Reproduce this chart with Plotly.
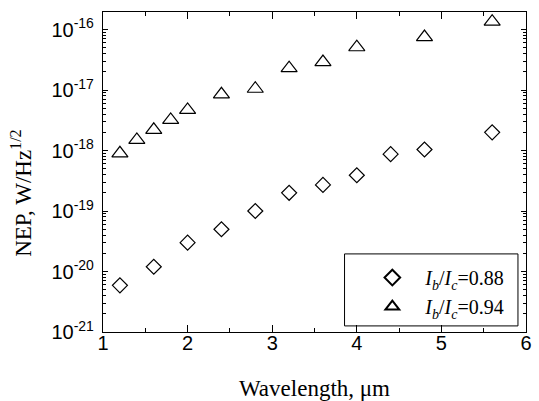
import plotly.graph_objects as go

wl_88 = [1.2, 1.6, 2.0, 2.4, 2.8, 3.2, 3.6, 4.0, 4.4, 4.8, 5.6]
nep_88 = [5.9e-21, 1.2e-20, 3.0e-20, 5.0e-20, 1.0e-19, 2.0e-19, 2.7e-19, 3.9e-19, 8.7e-19, 1.04e-18, 2.0e-18]

wl_94 = [1.2, 1.4, 1.6, 1.8, 2.0, 2.4, 2.8, 3.2, 3.6, 4.0, 4.8, 5.6]
nep_94 = [9.0e-19, 1.5e-18, 2.2e-18, 3.2e-18, 4.7e-18, 8.5e-18, 1.05e-17, 2.3e-17, 2.9e-17, 5.1e-17, 7.5e-17, 1.35e-16]

y_tickvals = [1e-21, 1e-20, 1e-19, 1e-18, 1e-17, 1e-16]
y_ticktext = ["10<sup>-21</sup>", "10<sup>-20</sup>", "10<sup>-19</sup>", "10<sup>-18</sup>", "10<sup>-17</sup>", "10<sup>-16</sup>"]
x_tickvals = [1, 2, 3, 4, 5, 6]

serif = "Liberation Serif, Times New Roman, serif"
sans = "Liberation Sans, Arial, sans-serif"

fig = go.Figure()
fig.add_trace(go.Scatter(
    x=wl_88, y=nep_88, mode="markers",
    name="<i>I</i><sub><i>b</i></sub>/<i>I</i><sub><i>c</i></sub>=0.88",
    marker=dict(symbol="diamond-open", size=11.5, color="black", line=dict(width=1.2, color="black")),
))
fig.add_trace(go.Scatter(
    x=wl_94, y=nep_94, mode="markers",
    name="<i>I</i><sub><i>b</i></sub>/<i>I</i><sub><i>c</i></sub>=0.94",
    marker=dict(symbol="triangle-up-open", size=14, color="black", line=dict(width=1.2, color="black")),
))

fig.add_shape(type="rect", xref="paper", yref="paper",
              x0=0.571, x1=0.981, y0=0.019, y1=0.244,
              line=dict(color="black", width=1), fillcolor="white", layer="below")

fig.add_annotation(text="NEP, W/Hz<sup>1/2</sup>", xref="paper", yref="paper",
                   x=-0.193, y=0.433, xanchor="center", yanchor="middle",
                   textangle=-90, showarrow=False,
                   font=dict(family=serif, size=23, color="black"))
fig.add_annotation(text="Wavelength, μm", xref="paper", yref="paper",
                   x=0.5, y=-0.178, xanchor="center", yanchor="middle",
                   showarrow=False,
                   font=dict(family=serif, size=23, color="black"))

fig.update_layout(
    width=539, height=401,
    margin=dict(l=103, r=7, t=12, b=69),
    paper_bgcolor="white", plot_bgcolor="white",
    showlegend=True,
    legend=dict(
        x=0.606, y=0.231, xanchor="left", yanchor="top",
        borderwidth=0, bgcolor="rgba(0,0,0,0)",
        font=dict(family=serif, size=20, color="black"),
        tracegroupgap=0, itemsizing="constant", itemwidth=56,
    ),
    xaxis=dict(
        range=[1, 6], tickvals=x_tickvals, ticks="inside", ticklen=7, tickwidth=1,
        tickcolor="black", showline=True, linecolor="black", linewidth=1.2, mirror="ticks",
        showgrid=False, zeroline=False, ticklabelstandoff=-7,
        tickfont=dict(family=sans, size=20, color="black"),
        minor=dict(dtick=0.5, ticks="inside", ticklen=4, tickcolor="black", showgrid=False),
    ),
    yaxis=dict(
        type="log", range=[-21, -15.71], tickvals=y_tickvals, ticktext=y_ticktext,
        ticks="inside", ticklen=5, tickwidth=1, tickcolor="black",
        showline=True, linecolor="black", linewidth=1.2, mirror="ticks",
        showgrid=False, zeroline=False, ticklabelstandoff=4,
        tickfont=dict(family=sans, size=20, color="black"),
        minor=dict(dtick="D1", ticks="inside", ticklen=2.5, tickcolor="black", showgrid=False),
    ),
)

fig.write_html("out.html", config={"displayModeBar": False},
               post_script="document.body.style.margin='0';")
